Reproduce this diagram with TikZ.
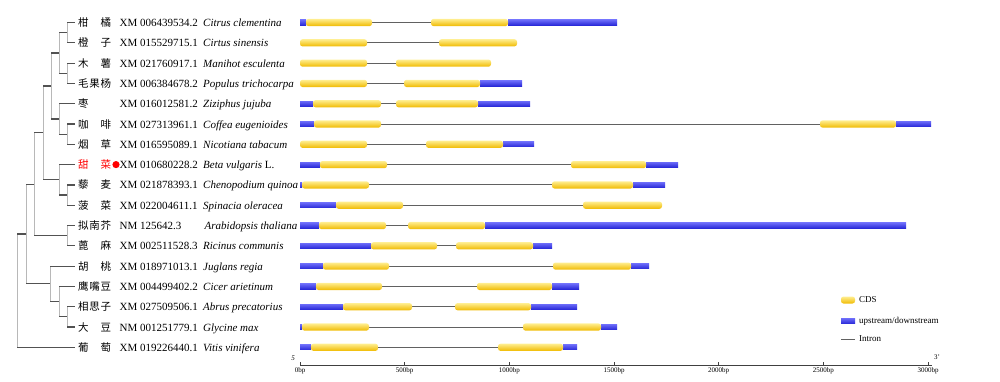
\documentclass[tikz,border=0pt]{standalone}
\usepackage{fontspec}
\setmainfont{Liberation Serif}
\newfontfamily\cjk{Noto Sans CJK SC}
\newcommand\cjktwo[2]{\makebox[33pt][l]{#1\hfill#2}}
\newcommand\cjkthree[3]{\makebox[33pt][l]{#1\hfill#2\hfill#3}}
\newcommand\clade[3]{%
  \draw[vline] (#1 |- #2) -- (#1 |- #3);
  \draw[hline] (#1 |- #2) -- (#2);
  \draw[hline] (#1 |- #3) -- (#3);
}
\definecolor{cdsTop}{HTML}{FFEE90}
\definecolor{cdsMid}{HTML}{FFD630}
\definecolor{cdsBot}{HTML}{F0BA00}
\definecolor{utrTop}{HTML}{6A6AF8}
\definecolor{utrMid}{HTML}{0808C4}
\definecolor{utrBot}{HTML}{2A2AD8}
\tikzset{
  hline/.style={draw=black!68, line width=1.2pt},
  vline/.style={draw=black!28, line width=1pt},
  cds/.style={rounded corners=2.5pt, top color=cdsTop, middle color=cdsMid, bottom color=cdsBot},
  utr/.style={top color=utrTop, middle color=utrMid, bottom color=utrBot},
  intron/.style={draw=black!62, line width=1pt},
  cjklab/.style={anchor=base west, inner sep=0pt, font=\cjk\fontsize{10.5}{11}\selectfont},
  acclab/.style={anchor=base west, inner sep=0pt, font=\fontsize{11}{11}\selectfont},
  splab/.style={anchor=base west, inner sep=0pt, font=\fontsize{11}{11}\selectfont\itshape},
  ticklab/.style={anchor=north, inner sep=0pt, font=\fontsize{7}{7}\selectfont},
  leglab/.style={anchor=west, inner sep=0pt, font=\fontsize{9}{9}\selectfont},
  axisline/.style={draw=black!75, line width=1pt},
}
\begin{document}
\begin{tikzpicture}[x=1pt,y=-1pt]
\useasboundingbox (0,0) rectangle (1000,381);

% ---------- labels ----------
\foreach \i/\y/\nm/\acc/\sp/\spx in {
  1/22.5/{\cjktwo{柑}{橘}}/{XM 006439534.2}/{Citrus clementina}/203,
  2/42.8/{\cjktwo{橙}{子}}/{XM 015529715.1}/{Cirtus sinensis}/203,
  3/63.1/{\cjktwo{木}{薯}}/{XM 021760917.1}/{Manihot esculenta}/203,
  4/83.4/{\cjkthree{毛}{果}{杨}}/{XM 006384678.2}/{Populus trichocarpa}/203,
  5/103.7/{枣}/{XM 016012581.2}/{Ziziphus jujuba}/203,
  6/124.0/{\cjktwo{咖}{啡}}/{XM 027313961.1}/{Coffea eugenioides}/203,
  7/144.3/{\cjktwo{烟}{草}}/{XM 016595089.1}/{Nicotiana tabacum}/203,
  8/164.6/{\textcolor{red}{\cjktwo{甜}{菜}}}/{XM 010680228.2}/{Beta vulgaris \upshape L.}/203,
  9/184.9/{\cjktwo{藜}{麦}}/{XM 021878393.1}/{Chenopodium quinoa}/203,
  10/205.2/{\cjktwo{菠}{菜}}/{XM 022004611.1}/{Spinacia oleracea}/203,
  11/225.5/{\cjkthree{拟}{南}{芥}}/{NM 125642.3}/{Arabidopsis thaliana}/204.5,
  12/245.8/{\cjktwo{蓖}{麻}}/{XM 002511528.3}/{Ricinus communis}/203,
  13/266.1/{\cjktwo{胡}{桃}}/{XM 018971013.1}/{Juglans regia}/203,
  14/286.4/{\cjkthree{鹰}{嘴}{豆}}/{XM 004499402.2}/{Cicer arietinum}/203,
  15/306.7/{\cjkthree{相}{思}{子}}/{XM 027509506.1}/{Abrus precatorius}/203,
  16/327.0/{\cjktwo{大}{豆}}/{NM 001251779.1}/{Glycine max}/203,
  17/347.3/{\cjktwo{葡}{萄}}/{XM 019226440.1}/{Vitis vinifera}/203}{
  \coordinate (L\i) at (75,\y);
  \node[cjklab] (cn\i) at (78,\y+4) {\nm};
  \node[acclab] (ac\i) at (119.5,\y+4) {\acc};
  \node[splab] (sp\i) at (\spx,\y+4) {\sp};
}
\fill[red] (116,164.6) circle (3.6);

% ---------- tree ----------
\coordinate (n12) at (67,32.65);
\coordinate (n34) at (67,73.25);
\coordinate (nA) at (59,52.95);
\coordinate (n67) at (67,134.15);
\coordinate (nB) at (59,118.9);
\coordinate (nAB) at (51,85.9);
\coordinate (n910) at (67,195.05);
\coordinate (n8) at (59,179.8);
\coordinate (nC) at (43,132.85);
\coordinate (n1112) at (67,235.65);
\coordinate (nE) at (34,184.25);
\coordinate (n1516) at (67,316.85);
\coordinate (nG) at (59,301.6);
\coordinate (nH) at (50,283.85);
\coordinate (nI) at (26,234.05);
\coordinate (root) at (17,290.7);
\clade{n12}{L1}{L2}
\clade{n34}{L3}{L4}
\clade{nA}{n12}{n34}
\clade{n67}{L6}{L7}
\clade{nB}{L5}{n67}
\clade{nAB}{nA}{nB}
\clade{n910}{L9}{L10}
\clade{n8}{L8}{n910}
\clade{nC}{nAB}{n8}
\clade{n1112}{L11}{L12}
\clade{nE}{nC}{n1112}
\clade{n1516}{L15}{L16}
\clade{nG}{L14}{n1516}
\clade{nH}{L13}{nG}
\clade{nI}{nE}{nH}
\clade{root}{nI}{L17}

% ---------- gene structures ----------
\foreach \y/\a/\b/\c/\d/\e in {
  22.5/306/372/431/508/617,
  42.8/300/367/439/517/517,
  63.1/300/367/396/491/491,
  83.4/300/367/404/480/522,
  103.7/313/381/396/478/530,
  124.0/314/381/820/896/931,
  144.3/300/367/426/503/534,
  164.6/320/387/571/646/678,
  184.9/302/369/552/633/665,
  205.2/336/403/583/662/662,
  225.5/319/386/408/485/906,
  245.8/371/437/456/533/552,
  266.1/323/389/553/631/649,
  286.4/316/382/477/552/579,
  306.7/343/412/455/531/577,
  327.0/302/369/523/601/617,
  347.3/311/378/498/563/577}{
  \draw[intron] (\b,\y) -- (\c,\y);
  \ifdim \a pt>300.5pt \path[utr] (300,\y-2.6) rectangle (\a,\y+2.6); \fi
  \ifdim \e pt>\d pt \path[utr] (\d,\y-2.6) rectangle (\e,\y+2.6); \fi
  \path[cds] (\a,\y-3.6) rectangle (\b,\y+3.6);
  \path[cds] (\c,\y-3.6) rectangle (\d,\y+3.6);
}

% ---------- legend ----------
\path[cds] (841,296.5) rectangle (855,303.5);
\node[leglab] (lcds) at (859,300) {CDS};
\path[utr] (841,318.4) rectangle (855,323.6);
\node[leglab] (lutr) at (859,321) {upstream/downstream};
\draw[intron] (841,339) -- (855,339);
\node[leglab] (lint) at (859,339) {Intron};

% ---------- axis ----------
\coordinate (ax0) at (300,365);
\coordinate (ax1) at (932,365);
\draw[axisline] (ax0) -- (ax1);
\foreach \t/\l in {0/0bp,500/500bp,1000/1000bp,1500/1500bp,2000/2000bp,2500/2500bp,3000/3000bp}{
  \draw[axisline, line width=0.8pt] (300+0.20933*\t,365) -- (300+0.20933*\t,361.5);
  \node[ticklab] at (300+0.20933*\t,367.5) {\l};
}
\node[inner sep=0pt, font=\fontsize{7}{7}\selectfont\itshape] (five) at (293,358) {5};
\node[inner sep=0pt, font=\fontsize{7}{7}\selectfont] (three) at (937,357) {3'};
\end{tikzpicture}
\end{document}
